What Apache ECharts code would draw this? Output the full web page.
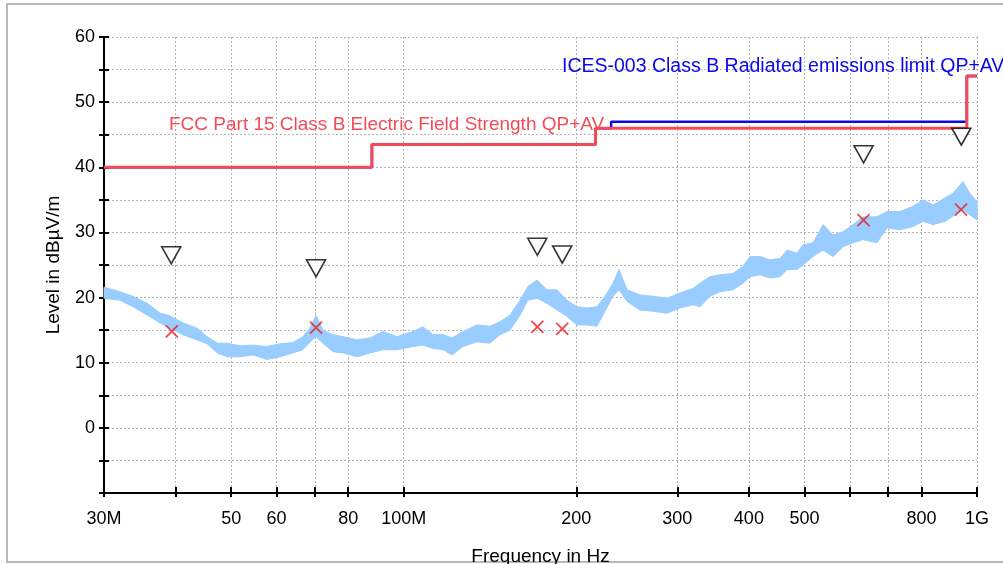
<!DOCTYPE html>
<html><head><meta charset="utf-8">
<script src="https://cdn.jsdelivr.net/npm/echarts@6/dist/echarts.min.js"></script>
<style>html,body{margin:0;padding:0;background:#fff}#c{width:1003px;height:564px}</style>
</head><body><div id="c"></div>
<script>
// Measured spectrum (band envelope), MHz / dBµV/m
const traceFreq = [30,32.0,33.7,35.7,37.6,39.1,41.2,43.6,45.4,47.3,49.2,51.8,54.6,57.7,60.8,64.1,66.7,68.6,70.3,72.3,75.2,78.4,82.9,87.3,92.0,97.3,103.8,108.0,112.5,117.1,121.4,126.9,134.2,141.4,147.2,153.2,159.5,164.7,170.8,177.8,185.1,192.7,200.5,208.7,217.3,224.4,231.8,237.4,245.2,258.3,272.2,287.8,303.2,319.6,328.7,342.0,356.2,375.3,390.7,401.7,418.3,435.4,453.3,466.2,485.3,497.1,517.6,538.9,560.8,583.6,607.5,632.6,669.0,696.6,733.7,773.1,805.1,838.0,879.3,908.0,945.3,971.9,1000];
const traceHigh = [21.6,20.9,20.2,19.1,17.6,17.2,16.1,15.3,14.0,13.0,13.0,12.6,12.7,12.5,12.9,13.1,14.0,15.3,17.3,15.0,14.3,14.0,13.5,13.8,14.8,14.0,14.8,15.5,14.3,14.3,13.8,14.8,15.8,15.6,16.3,17.3,19.6,21.7,22.7,21.2,21.2,19.6,18.6,18.4,18.6,20.2,22.2,24.3,21.2,20.4,20.2,19.9,20.7,21.4,22.2,23.2,23.5,23.7,24.8,26.3,26.3,25.8,26.0,27.3,26.8,28.1,28.4,31.2,29.6,30.1,31.2,32.4,32.4,33.2,33.2,34.0,35.0,34.2,35.3,36.0,37.8,36.0,34.7];
const traceLow = [19.9,19.6,18.6,17.3,16.1,15.3,14.3,13.5,12.9,11.5,10.9,10.9,11.2,10.5,10.9,11.5,12.0,13.2,14.0,13.0,11.7,11.5,10.9,11.5,12.0,12.0,12.5,12.7,12.2,12.0,11.2,12.5,13.2,13.0,14.3,15.0,17.3,19.6,19.9,19.1,18.1,17.1,15.8,15.8,15.6,17.9,20.2,21.2,19.4,18.1,17.9,17.6,18.4,18.9,18.6,20.2,20.9,21.2,22.2,23.2,23.5,23.0,23.2,24.3,24.3,25.0,26.3,27.3,26.3,27.8,28.4,28.9,28.4,30.7,30.4,30.9,31.7,31.2,31.7,32.5,33.5,32.7,31.9];
// Limit lines
const fccEdges = [30, 88, 216, 960, 1000];
const fccLimits = [40, 43.5, 46, 54];
const icesEdges = [30, 88, 216, 230, 960, 1000];
const icesLimits = [40, 43.5, 46, 47, 54];
// Final measurement markers
const qpFreq = [39.3, 70.3, 171, 189, 634, 939];
const qpLevel = [26.5, 24.5, 27.8, 26.6, 42.0, 44.7];
const avFreq = [39.4, 70.3, 171, 189, 634, 938];
const avLevel = [14.8, 15.4, 15.5, 15.2, 31.9, 33.5];
// Axis ticks
const xTickValues = [30,40,50,60,70,80,100,200,300,400,500,600,700,800,1000];
const xLabelValues = [30,50,60,80,100,200,300,400,500,800,1000];
const xLabelText = {30:'30M', 100:'100M', 1000:'1G'};

const FONT = "'Liberation Sans', Arial, sans-serif";
const RED = '#f34b57', BLUE = '#0a0ae8', TRACE = '#99ccff';

function steps(edges, limits) {
  const pts = [];
  for (let i = 0; i < limits.length; i++) {
    pts.push([edges[i], limits[i]]);
    pts.push([edges[i + 1], limits[i]]);
  }
  return pts;
}
const zip = (a, b) => a.map((v, i) => [v, b[i]]);

const chart = echarts.init(document.getElementById('c'), null, {renderer: 'canvas'});
const baseX = {
  type: 'log', logBase: 10, min: 30, max: 1000, gridIndex: 0, position: 'bottom'
};
const baseY = {
  type: 'value', min: -10, max: 60, interval: 5, gridIndex: 0, position: 'left'
};
chart.setOption({
  animation: false,
  backgroundColor: '#fff',
  grid: {left: 104, right: 26, top: 37, bottom: 71, containLabel: false, outerBoundsMode: 'none'},
  xAxis: [
    Object.assign({}, baseX, {
      name: 'Frequency in Hz', nameLocation: 'middle', nameGap: 54,
      nameTextStyle: {fontFamily: FONT, fontSize: 19, color: '#000'},
      axisLine: {show: true, onZero: false, lineStyle: {color: '#000', width: 2}},
      axisTick: {show: true, inside: false, length: 4, customValues: xTickValues, lineStyle: {color: '#000', width: 2}},
      axisLabel: {show: true, customValues: xLabelValues, margin: 17, fontFamily: FONT, fontSize: 18, color: '#000',
        formatter: v => xLabelText[Math.round(v)] || String(Math.round(v))},
      splitLine: {show: true, lineStyle: {color: '#b4b4b4', type: [2, 2], width: 1}}
    }),
    Object.assign({}, baseX, {
      axisLine: {show: false, onZero: false},
      axisTick: {show: true, inside: true, length: 6, customValues: xTickValues, lineStyle: {color: '#000', width: 2}},
      axisLabel: {show: false}, splitLine: {show: false}
    })
  ],
  yAxis: [
    Object.assign({}, baseY, {
      name: 'Level in dBµV/m', nameLocation: 'middle', nameGap: 41,
      nameTextStyle: {fontFamily: FONT, fontSize: 19, color: '#000'},
      axisLine: {show: true, onZero: false, lineStyle: {color: '#000', width: 2}},
      axisTick: {show: true, inside: false, length: 5, lineStyle: {color: '#000', width: 2}},
      axisLabel: {show: true, margin: 9, fontFamily: FONT, fontSize: 18, color: '#000',
        formatter: v => (v % 10 === 0 && v >= 0) ? String(v) : ''},
      splitLine: {show: true, lineStyle: {color: '#b4b4b4', type: [2, 2], width: 1}}
    }),
    Object.assign({}, baseY, {
      axisLine: {show: false, onZero: false},
      axisTick: {show: true, inside: true, length: 5, lineStyle: {color: '#000', width: 2}},
      axisLabel: {show: false}, splitLine: {show: false}
    })
  ],
  series: [
    {
      type: 'custom', name: 'trace', z: 2, silent: true,
      data: traceFreq.map((f, i) => [f, traceHigh[i], traceLow[i]]),
      encode: {x: 0, y: [1, 2]},
      renderItem: function (params, api) {
        if (params.dataIndex !== 0) return null;
        const top = traceFreq.map((f, i) => api.coord([f, traceHigh[i]]));
        const bot = traceFreq.map((f, i) => api.coord([f, traceLow[i]])).reverse();
        return {
          type: 'polygon',
          shape: {points: top.concat(bot)},
          style: {fill: TRACE, stroke: TRACE, lineWidth: 1}
        };
      }
    },
    {
      type: 'line', name: 'ICES', symbol: 'none', data: steps(icesEdges, icesLimits),
      lineStyle: {color: BLUE, width: 2.5}, z: 3
    },
    {
      type: 'line', name: 'FCC', symbol: 'none', data: steps(fccEdges, fccLimits),
      lineStyle: {color: RED, width: 3}, z: 4
    },
    {
      type: 'scatter', name: 'QP', data: zip(qpFreq, qpLevel),
      symbol: 'triangle', symbolRotate: 180, symbolSize: [19, 17],
      itemStyle: {color: '#fff', borderColor: '#000', borderWidth: 1.6}, z: 5
    },
    {
      type: 'scatter', name: 'AV', data: zip(avFreq, avLevel),
      symbol: 'path://M0,0L10,10M10,0L0,10', symbolSize: 12, symbolKeepAspect: true,
      itemStyle: {color: 'none', borderColor: '#ee1c1c', borderWidth: 1.8}, z: 6
    }
  ],
  graphic: [
    {type: 'rect', shape: {x: 7, y: 4, width: 1010, height: 558}, style: {fill: 'none', stroke: '#b8b8b8', lineWidth: 2}, silent: true, z: -10},
    {type: 'text', x: 169, y: 115.5, style: {text: 'FCC Part 15 Class B Electric Field Strength QP+AV', fill: RED, font: "19px 'Liberation Sans', Arial, sans-serif", textVerticalAlign: 'alphabetic', textBaseline: 'alphabetic'}, z: 10},
    {type: 'text', x: 562, y: 56.5, style: {text: 'ICES-003 Class B Radiated emissions limit QP+AV', fill: BLUE, font: "19.5px 'Liberation Sans', Arial, sans-serif", textVerticalAlign: 'alphabetic', textBaseline: 'alphabetic'}, z: 10}
  ]
});
</script></body></html>
